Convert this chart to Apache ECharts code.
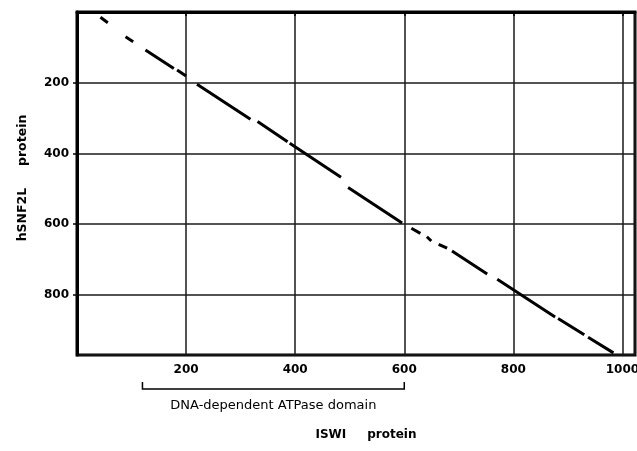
<!DOCTYPE html>
<html><head><meta charset="utf-8">
<script src="https://cdn.jsdelivr.net/npm/echarts@6/dist/echarts.min.js"></script>
<style>html,body{margin:0;padding:0;background:#fff}#c{width:637px;height:451px}</style>
</head><body><div id="c"></div>
<script>
// Axis ticks (labels shown)
const xTickLabels = [200, 400, 600, 800, 1000];
const yTickLabels = [200, 400, 600, 800];
// Diagonal alignment segments (ISWI position -> hSNF2L position)
const segStartX = [43, 89, 125.5, 183.5, 220, 331, 390, 497, 613, 641.5, 663, 687.5, 770.5, 882, 937];
const segStartY = [15, 70, 107.5, 164, 204, 310, 371.5, 496, 611.5, 635.5, 657, 676, 756, 866.5, 920];
const segEndX   = [56.5, 103, 177.5, 200, 318, 386, 484, 596, 629.5, 649.5, 678.5, 752, 876.5, 930, 983.5];
const segEndY   = [30.5, 84, 159.5, 181, 303.5, 367, 467.5, 597, 626, 647.5, 668, 741, 862.5, 913, 964];
// Annotated domain on ISWI
const domainStart = 120;
const domainEnd = 600;
const domainLabel = 'DNA-dependent ATPase domain';
const xName = 'ISWI     protein';
const yName = 'hSNF2L     protein';
const xMax = 1023;
const yMax = 970;

const lineData = [];
for (let i = 0; i < segStartX.length; i++) {
  lineData.push([segStartX[i], segStartY[i]]);
  lineData.push([segEndX[i], segEndY[i]]);
  lineData.push(null);
}

const FONT = 'DejaVu Sans';
const chart = echarts.init(document.getElementById('c'), null, {renderer: 'canvas'});
chart.setOption({
  animation: false,
  backgroundColor: '#fff',
  grid: {left: 77, right: 2, top: 12, bottom: 96, outerBoundsMode: 'none', containLabel: false,
    show: true, borderColor: '#000', borderWidth: 3, backgroundColor: 'transparent'},
  xAxis: {
    type: 'value', min: 0, max: xMax, interval: 200,
    name: xName, nameLocation: 'middle', nameGap: 74,
    nameTextStyle: {fontFamily: FONT, fontWeight: 'bold', fontSize: 12, color: '#000', padding: [0, 0, 0, 20]},
    axisLine: {show: true, lineStyle: {color: '#000', width: 3}},
    axisTick: {show: true, length: 4, lineStyle: {color: '#000', width: 1.5}},
    axisLabel: {showMinLabel: false, showMaxLabel: false, margin: 9, fontFamily: FONT, fontWeight: 'bold', fontSize: 12, color: '#000',
      formatter: v => xTickLabels.indexOf(v) >= 0 ? String(v) : ''},
    splitLine: {show: true, lineStyle: {color: '#1a1a1a', width: 1.5}}
  },
  yAxis: {
    type: 'value', min: 0, max: yMax, interval: 200, inverse: true,
    name: yName, nameLocation: 'middle', nameGap: 48,
    nameTextStyle: {fontFamily: FONT, fontWeight: 'bold', fontSize: 12.5, color: '#000', padding: [0, 0, 0, 11]},
    axisLine: {show: true, lineStyle: {color: '#000', width: 3}},
    axisTick: {show: true, length: 4, lineStyle: {color: '#000', width: 1.5}},
    axisLabel: {showMinLabel: false, showMaxLabel: false, margin: 8, fontFamily: FONT, fontWeight: 'bold', fontSize: 12, color: '#000',
      formatter: v => yTickLabels.indexOf(v) >= 0 ? String(v) : ''},
    splitLine: {show: true, lineStyle: {color: '#1a1a1a', width: 1.5}}
  },
  series: [{
    type: 'line', data: lineData, showSymbol: false, symbol: 'none', connectNulls: false,
    lineStyle: {color: '#000', width: 3, cap: 'butt'}, z: 3
  }]
});

const xs = chart.convertToPixel({xAxisIndex: 0}, domainStart);
const xe = chart.convertToPixel({xAxisIndex: 0}, domainEnd);
const by = 389, bt = 382;
chart.setOption({
  graphic: [
    {type: 'polyline', shape: {points: [[xs, bt], [xs, by], [xe, by], [xe, bt]]}, style: {stroke: '#000', lineWidth: 1.5, fill: null}},
    {type: 'text', x: (xs + xe) / 2, y: 406, style: {text: domainLabel, fontFamily: FONT, fontSize: 13, fill: '#000', align: 'center', verticalAlign: 'middle'}}
  ]
});
</script>
</body></html>
